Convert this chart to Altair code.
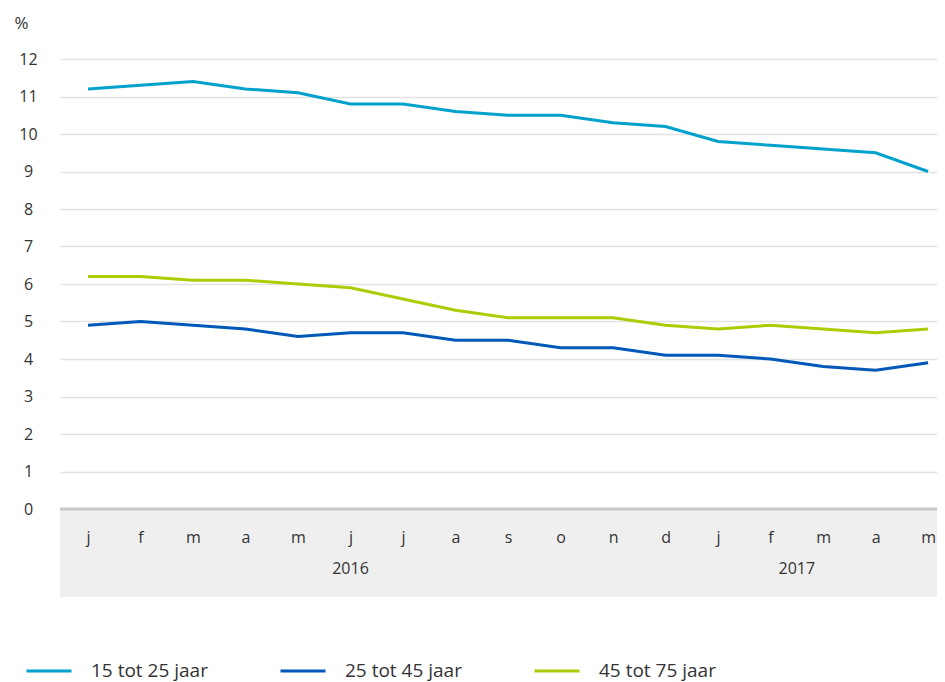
import json
import altair as alt
import pandas as pd

months = ["j", "f", "m", "a", "m", "j", "j", "a", "s", "o", "n", "d", "j", "f", "m", "a", "m"]
series_names = ["15 tot 25 jaar", "25 tot 45 jaar", "45 tot 75 jaar"]
s_15_25 = [11.2, 11.3, 11.4, 11.2, 11.1, 10.8, 10.8, 10.6, 10.5, 10.5, 10.3, 10.2, 9.8, 9.7, 9.6, 9.5, 9.0]
s_25_45 = [4.9, 5.0, 4.9, 4.8, 4.6, 4.7, 4.7, 4.5, 4.5, 4.3, 4.3, 4.1, 4.1, 4.0, 3.8, 3.7, 3.9]
s_45_75 = [6.2, 6.2, 6.1, 6.1, 6.0, 5.9, 5.6, 5.3, 5.1, 5.1, 5.1, 4.9, 4.8, 4.9, 4.8, 4.7, 4.8]
colors = ["#00a1cd", "#0058b8", "#afcb05"]
years = ["2016", "2017"]
year_pos = [5, 13.5]
y_ticks = list(range(0, 13))

W, H = 877, 450
FONT = "Open Sans"
TXT = "#333333"

rows = []
for name, vals in zip(series_names, [s_15_25, s_25_45, s_45_75]):
    for i, v in enumerate(vals):
        rows.append({"idx": i, "value": v, "series": name})
df = pd.DataFrame(rows)

x_scale = alt.Scale(domain=[-0.533, 16.17], nice=False, zero=False)
y_scale = alt.Scale(domain=[0, 12], nice=False)

month_expr = json.dumps(months) + "[datum.value]"

band = alt.Chart(pd.DataFrame({"a": [0]})).mark_rect(color="#efefef").encode(
    x=alt.value(0), x2=alt.value(W), y=alt.value(H), y2=alt.value(H + 88)
)
base_rule = alt.Chart(pd.DataFrame({"a": [0]})).mark_rule(color="#c8c8c8", strokeWidth=3).encode(
    x=alt.value(0), x2=alt.value(W), y=alt.value(H)
)

lines = alt.Chart(df).mark_line(strokeWidth=3).encode(
    x=alt.X("idx:Q", scale=x_scale,
            axis=alt.Axis(values=list(range(len(months))), labelExpr=month_expr, grid=False,
                          ticks=False, domain=False, labelPadding=20, labelFontSize=16,
                          labelColor=TXT, title=None, labelFont=FONT, zindex=1)),
    y=alt.Y("value:Q", scale=y_scale,
            axis=alt.Axis(values=y_ticks, grid=True, gridColor="#e2e2e2", gridWidth=1.5,
                          ticks=False, domain=False, labelAlign="center", labelPadding=32,
                          labelFontSize=16, labelColor=TXT, labelFont=FONT,
                          title="%", titleAngle=0, titleX=-46, titleY=-36, titleAlign="left",
                          titleBaseline="middle", titleFontWeight="normal", titleFontSize=17,
                          titleColor=TXT, titleFont=FONT)),
    color=alt.Color("series:N", scale=alt.Scale(domain=series_names, range=colors),
                    legend=alt.Legend(orient="none", legendX=-35, legendY=588, direction="horizontal",
                                      symbolType="stroke", symbolSize=2025, symbolStrokeWidth=3,
                                      labelFontSize=19, labelColor=TXT, labelFont=FONT,
                                      columnPadding=66, labelOffset=18, title=None)),
    detail="series:N",
)

year_df = pd.DataFrame({"idx": year_pos, "year": years})
year_text = alt.Chart(year_df).mark_text(fontSize=16, color=TXT, font=FONT, baseline="middle").encode(
    x=alt.X("idx:Q", scale=x_scale),
    y=alt.value(H + 60),
    text="year:N",
)

chart = alt.layer(band, base_rule, lines, year_text).properties(
    width=W, height=H,
    autosize=alt.AutoSizeParams(type="none"),
    padding={"left": 52, "top": 51, "right": 0, "bottom": 173},
).configure_view(stroke=None)

chart.save("out.html", embed_options={"renderer": "svg", "actions": False})
